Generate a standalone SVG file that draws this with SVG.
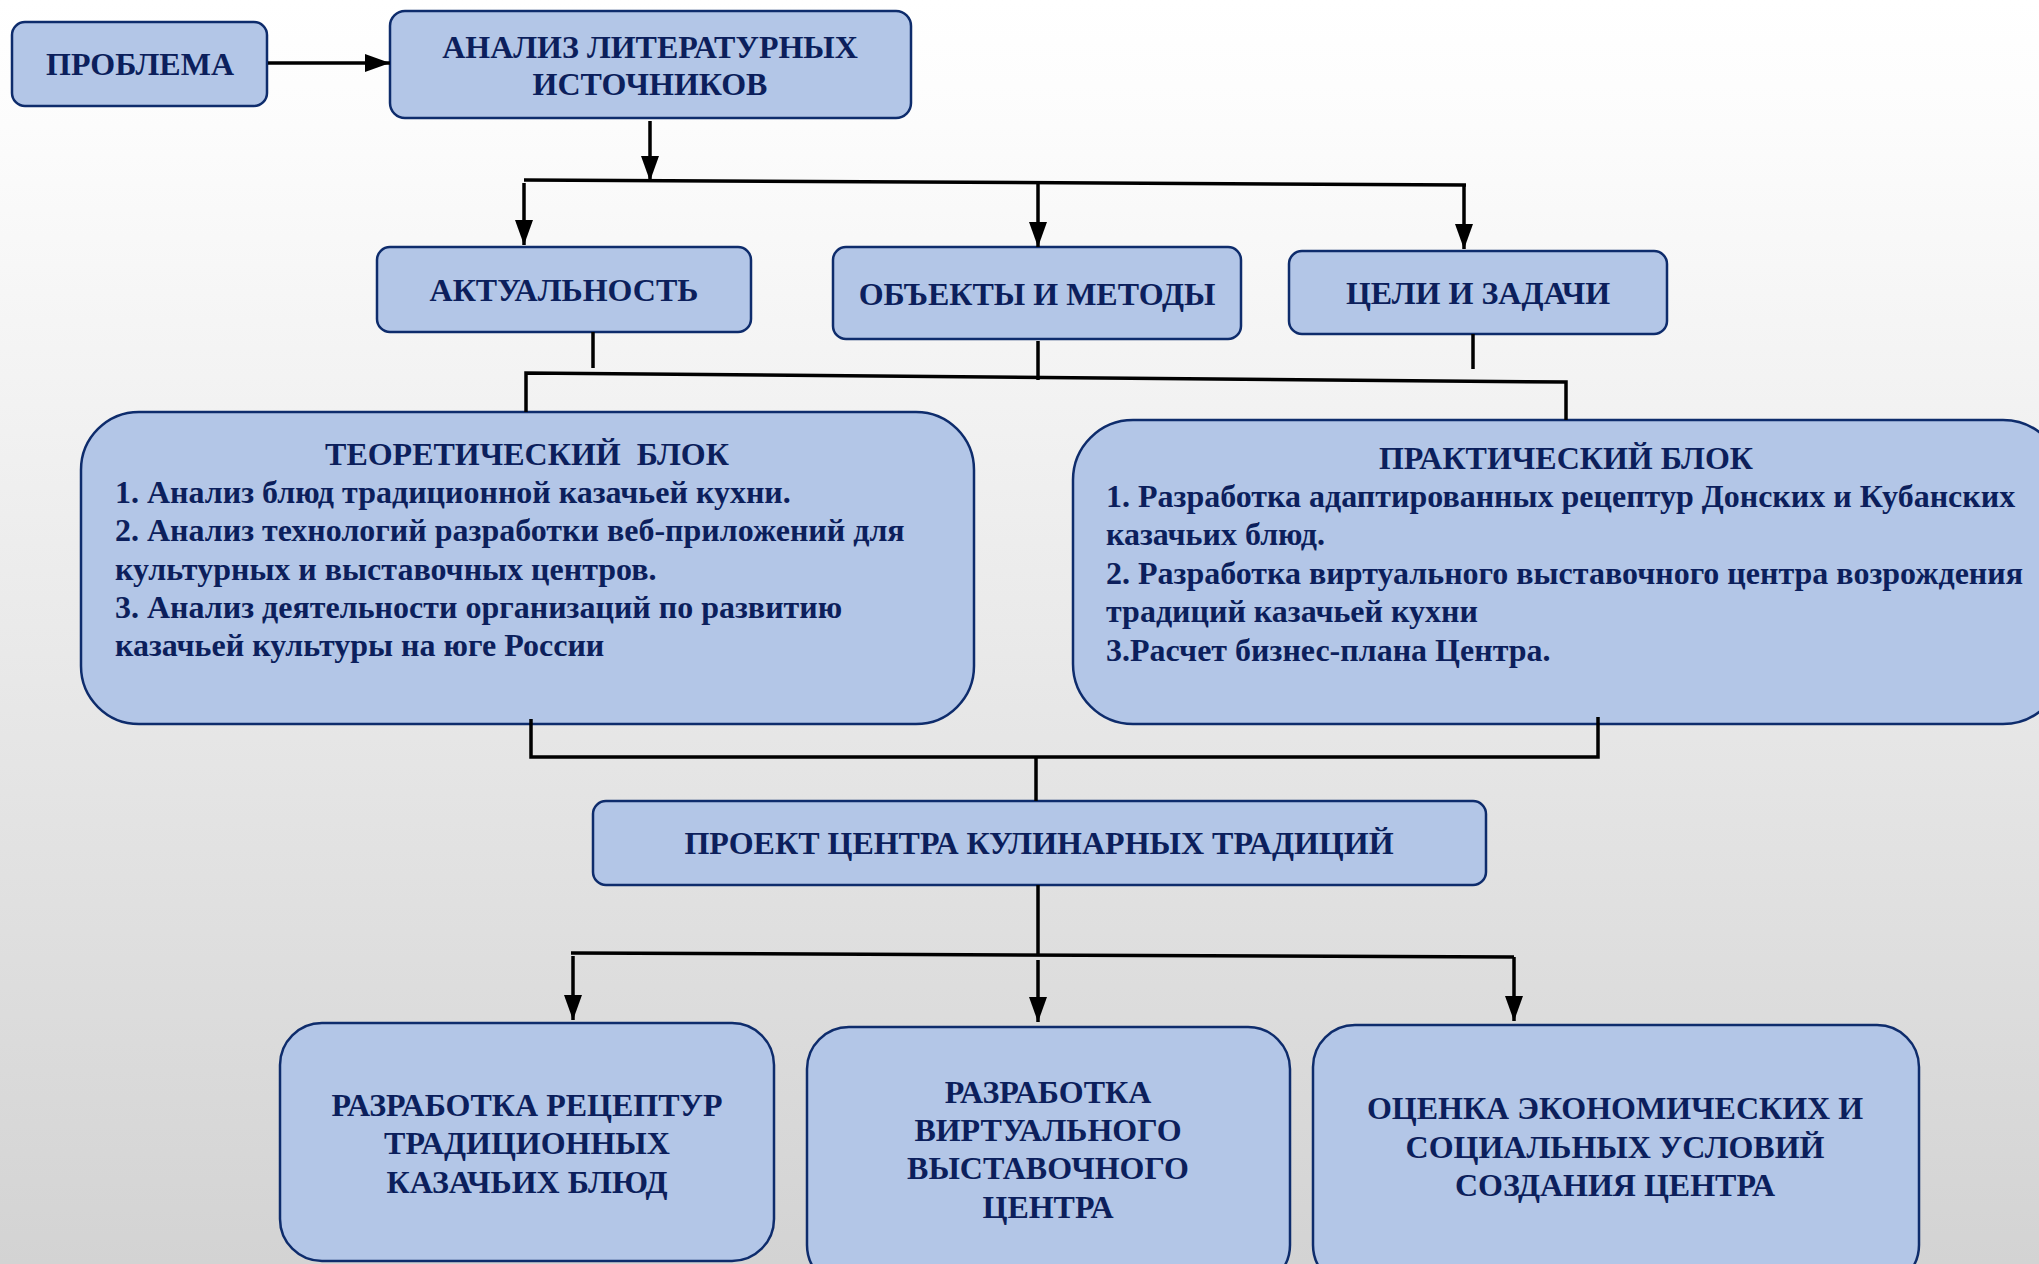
<svg xmlns="http://www.w3.org/2000/svg" width="2039" height="1264" viewBox="0 0 2039 1264">
<defs>
<linearGradient id="bg" x1="0" y1="0" x2="0" y2="1">
<stop offset="0" stop-color="#ffffff"/>
<stop offset="0.1" stop-color="#fcfcfc"/>
<stop offset="1" stop-color="#d3d3d3"/>
</linearGradient>
<marker id="ah" markerWidth="25" markerHeight="18" refX="25" refY="9" orient="auto" markerUnits="userSpaceOnUse">
<path d="M0,0 L25,9 L0,18 Z" fill="#000"/>
</marker>
<style>
.box{fill:#b3c6e7;stroke:#0e2c6c;stroke-width:2.5}
.t{font-family:"Liberation Serif","Times New Roman",serif;font-weight:bold;font-size:32px;fill:#0c1f5c}
.c{text-anchor:middle}
.ln{fill:none;stroke:#000;stroke-width:3.5}
.ar{fill:none;stroke:#000;stroke-width:3.5;marker-end:url(#ah)}
</style>
</defs>
<rect x="0" y="0" width="2039" height="1264" fill="url(#bg)"/>

<g id="node-problema">
<rect class="box" x="12" y="22" width="255" height="84" rx="13"/>
<text class="t c" x="140" y="75">ПРОБЛЕМА</text>
</g>
<g id="node-analiz">
<rect class="box" x="390" y="11" width="521" height="107" rx="15"/>
<text class="t c" x="650" y="58">АНАЛИЗ ЛИТЕРАТУРНЫХ</text>
<text class="t c" x="650" y="95">ИСТОЧНИКОВ</text>
</g>
<g id="node-aktualnost">
<rect class="box" x="377" y="247" width="374" height="85" rx="13"/>
<text class="t c" x="564" y="301">АКТУАЛЬНОСТЬ</text>
</g>
<g id="node-obekty">
<rect class="box" x="833" y="247" width="408" height="92" rx="13"/>
<text class="t c" x="1037" y="305">ОБЪЕКТЫ И МЕТОДЫ</text>
</g>
<g id="node-celi">
<rect class="box" x="1289" y="251" width="378" height="83" rx="13"/>
<text class="t c" x="1478" y="304">ЦЕЛИ И ЗАДАЧИ</text>
</g>
<g id="node-teor">
<rect class="box" x="81" y="412" width="893" height="312" rx="58"/>
<text class="t c" x="527" y="465" xml:space="preserve">ТЕОРЕТИЧЕСКИЙ  БЛОК</text>
<text class="t" x="115" y="503">1. Анализ блюд традиционной казачьей кухни.</text>
<text class="t" x="115" y="541">2. Анализ технологий разработки веб-приложений для</text>
<text class="t" x="115" y="580">культурных и выставочных центров.</text>
<text class="t" x="115" y="618">3. Анализ деятельности организаций по развитию</text>
<text class="t" x="115" y="656">казачьей культуры на юге России</text>
</g>
<g id="node-prakt">
<rect class="box" x="1073" y="420" width="990" height="304" rx="60"/>
<text class="t c" x="1566" y="469">ПРАКТИЧЕСКИЙ БЛОК</text>
<text class="t" x="1106" y="507">1. Разработка адаптированных рецептур Донских и Кубанских</text>
<text class="t" x="1106" y="545">казачьих блюд.</text>
<text class="t" x="1106" y="584">2. Разработка виртуального выставочного центра возрождения</text>
<text class="t" x="1106" y="622">традиций казачьей кухни</text>
<text class="t" x="1106" y="661">3.Расчет бизнес-плана Центра.</text>
</g>
<g id="node-proekt">
<rect class="box" x="593" y="801" width="893" height="84" rx="13"/>
<text class="t c" x="1039" y="854">ПРОЕКТ ЦЕНТРА КУЛИНАРНЫХ ТРАДИЦИЙ</text>
</g>
<g id="node-receptury">
<rect class="box" x="280" y="1023" width="494" height="238" rx="42"/>
<text class="t c" x="527" y="1116">РАЗРАБОТКА РЕЦЕПТУР</text>
<text class="t c" x="527" y="1154">ТРАДИЦИОННЫХ</text>
<text class="t c" x="527" y="1193">КАЗАЧЬИХ БЛЮД</text>
</g>
<g id="node-virtual">
<rect class="box" x="807" y="1027" width="483" height="260" rx="42"/>
<text class="t c" x="1048" y="1103">РАЗРАБОТКА</text>
<text class="t c" x="1048" y="1141">ВИРТУАЛЬНОГО</text>
<text class="t c" x="1048" y="1179">ВЫСТАВОЧНОГО</text>
<text class="t c" x="1048" y="1218">ЦЕНТРА</text>
</g>
<g id="node-ocenka">
<rect class="box" x="1313" y="1025" width="606" height="262" rx="42"/>
<text class="t c" x="1615" y="1119">ОЦЕНКА ЭКОНОМИЧЕСКИХ И</text>
<text class="t c" x="1615" y="1158">СОЦИАЛЬНЫХ УСЛОВИЙ</text>
<text class="t c" x="1615" y="1196">СОЗДАНИЯ ЦЕНТРА</text>
</g>

<g id="connectors">
<line class="ar" x1="268" y1="63" x2="390" y2="63"/>
<line class="ar" x1="650" y1="121" x2="650" y2="181"/>
<line class="ln" x1="524" y1="180" x2="1466" y2="185"/>
<line class="ar" x1="524" y1="183" x2="524" y2="245"/>
<line class="ar" x1="1038" y1="183" x2="1038" y2="247"/>
<line class="ar" x1="1464" y1="185" x2="1464" y2="249"/>
<line class="ln" x1="593" y1="332" x2="593" y2="368"/>
<line class="ln" x1="1038" y1="341" x2="1038" y2="380"/>
<line class="ln" x1="1473" y1="334" x2="1473" y2="369"/>
<polyline class="ln" points="526,412 526,373 1566,382 1566,420"/>
<polyline class="ln" points="531,719 531,757 1598,757 1598,717"/>
<line class="ln" x1="1036" y1="757" x2="1036" y2="801"/>
<line class="ln" x1="1038" y1="885" x2="1038" y2="955"/>
<line class="ln" x1="571" y1="953" x2="1514" y2="957"/>
<line class="ar" x1="573" y1="956" x2="573" y2="1020"/>
<line class="ar" x1="1038" y1="960" x2="1038" y2="1022"/>
<line class="ar" x1="1514" y1="957" x2="1514" y2="1021"/>
</g>
</svg>
